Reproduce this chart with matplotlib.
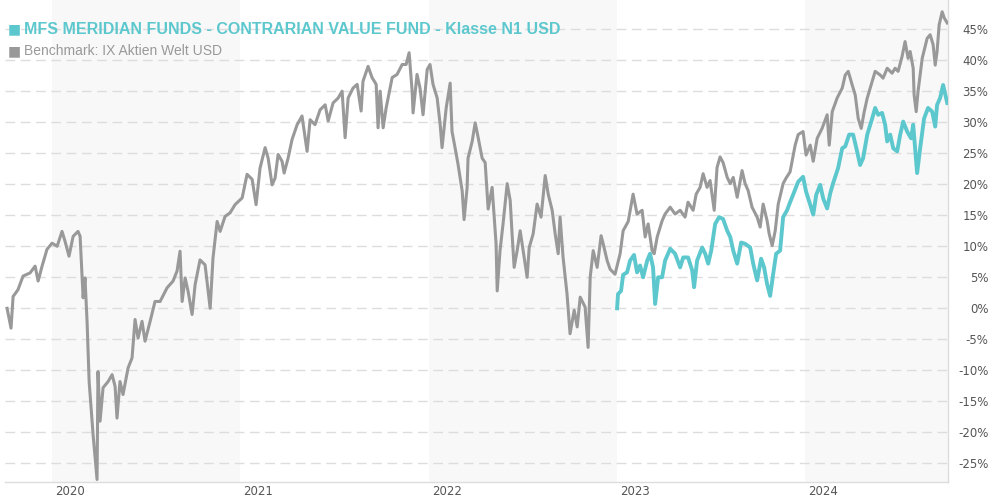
import matplotlib
matplotlib.use("Agg")
import matplotlib.pyplot as plt
import numpy as np

# time as decimal year, values in % performance
bench_t = [2019.761, 2019.782, 2019.793, 2019.819, 2019.846, 2019.883, 2019.910, 2019.926, 2019.947, 2019.973,
           2020.000, 2020.027, 2020.053, 2020.069, 2020.090, 2020.112, 2020.138, 2020.149, 2020.165, 2020.175,
           2020.186, 2020.197, 2020.218, 2020.239, 2020.244, 2020.255, 2020.271, 2020.298, 2020.319, 2020.335,
           2020.345, 2020.361, 2020.377, 2020.404, 2020.425, 2020.441, 2020.457, 2020.478, 2020.494, 2020.521,
           2020.547, 2020.574, 2020.611, 2020.643, 2020.664, 2020.680, 2020.691, 2020.707, 2020.723, 2020.744,
           2020.760, 2020.786, 2020.813, 2020.840, 2020.855, 2020.877, 2020.893, 2020.919, 2020.946, 2020.972,
           2021.010, 2021.036, 2021.063, 2021.084, 2021.105, 2021.132, 2021.148, 2021.169, 2021.185, 2021.201,
           2021.222, 2021.233, 2021.254, 2021.275, 2021.302, 2021.328, 2021.355, 2021.371, 2021.397, 2021.424,
           2021.451, 2021.467, 2021.493, 2021.520, 2021.541, 2021.557, 2021.573, 2021.599, 2021.621, 2021.642,
           2021.652, 2021.679, 2021.700, 2021.722, 2021.732, 2021.743, 2021.759, 2021.775, 2021.807, 2021.833,
           2021.860, 2021.881, 2021.897, 2021.913, 2021.918, 2021.939, 2021.955, 2021.971, 2021.993, 2022.008,
           2022.024, 2022.046, 2022.062, 2022.072, 2022.094, 2022.115, 2022.125, 2022.141, 2022.157, 2022.179,
           2022.189, 2022.205, 2022.210, 2022.232, 2022.248, 2022.264, 2022.285, 2022.301, 2022.317, 2022.338,
           2022.349, 2022.359, 2022.365, 2022.380, 2022.396, 2022.418, 2022.434, 2022.444, 2022.455, 2022.471,
           2022.487, 2022.503, 2022.524, 2022.535, 2022.556, 2022.577, 2022.598, 2022.620, 2022.636, 2022.657,
           2022.673, 2022.689, 2022.699, 2022.715, 2022.736, 2022.752, 2022.774, 2022.790, 2022.806, 2022.832,
           2022.848, 2022.859, 2022.875, 2022.896, 2022.917, 2022.928, 2022.949, 2022.965, 2022.991, 2023.018,
           2023.034, 2023.061, 2023.087, 2023.108, 2023.135, 2023.151, 2023.167, 2023.188, 2023.199, 2023.215,
           2023.241, 2023.257, 2023.284, 2023.310, 2023.337, 2023.363, 2023.379, 2023.406, 2023.422, 2023.443,
           2023.459, 2023.480, 2023.496, 2023.518, 2023.533, 2023.549, 2023.565, 2023.587, 2023.603, 2023.619,
           2023.640, 2023.666, 2023.682, 2023.698, 2023.719, 2023.746, 2023.762, 2023.778, 2023.799, 2023.810,
           2023.826, 2023.842, 2023.858, 2023.884, 2023.900, 2023.921, 2023.948, 2023.964, 2023.990, 2024.006,
           2024.028, 2024.044, 2024.065, 2024.091, 2024.118, 2024.129, 2024.145, 2024.171, 2024.198, 2024.214,
           2024.230, 2024.251, 2024.267, 2024.283, 2024.299, 2024.315, 2024.331, 2024.357, 2024.373, 2024.400,
           2024.415, 2024.437, 2024.463, 2024.479, 2024.495, 2024.516, 2024.532, 2024.548, 2024.559, 2024.575,
           2024.580, 2024.591, 2024.601, 2024.623, 2024.649, 2024.665, 2024.681, 2024.692, 2024.702, 2024.713,
           2024.729, 2024.740, 2024.756]
bench_v = [0.0, -3.2, 1.9, 3.0, 5.2, 5.7, 6.8, 4.4, 6.8, 9.5,
           10.5, 10.0, 12.4, 10.8, 8.4, 11.6, 12.4, 11.6, 1.7, 4.9,
           -2.1, -11.8, -20.4, -27.6, -10.2, -18.2, -12.8, -11.8, -10.7, -12.6,
           -17.7, -11.8, -13.9, -9.6, -8.0, -1.8, -4.8, -2.1, -5.3, -2.1,
           1.1, 1.1, 3.3, 4.4, 6.0, 9.2, 1.1, 4.9, 2.7, -1.0,
           3.8, 7.8, 7.0, 0.0, 8.1, 14.0, 12.4, 14.8, 15.4, 16.7,
           17.8, 21.6, 20.8, 16.7, 22.6, 25.9, 24.2, 19.9, 21.0, 24.8,
           23.7, 21.8, 24.2, 27.2, 29.6, 31.0, 25.3, 30.4, 29.6, 32.0,
           32.8, 30.2, 33.1, 33.9, 35.0, 27.5, 33.9, 35.5, 36.1, 31.8,
           36.6, 39.0, 37.2, 36.1, 29.1, 35.0, 29.1, 32.3, 37.2, 37.7,
           39.3, 39.3, 41.2, 35.0, 31.5, 37.7, 35.5, 31.2, 38.5, 39.3,
           36.1, 33.9, 29.6, 25.9, 32.3, 36.3, 28.5, 25.9, 23.2, 18.9,
           14.3, 19.4, 24.2, 26.9, 29.9, 27.5, 24.2, 23.5, 16.0, 19.5,
           14.7, 10.4, 2.8, 9.3, 13.6, 20.1, 17.4, 12.0, 6.6, 9.3,
           12.5, 9.3, 5.0, 9.8, 12.0, 16.8, 14.7, 21.4, 18.4, 15.8,
           12.0, 8.8, 14.7, 8.2, 2.3, -4.1, -0.3, -3.0, 1.8, 0.2,
           -6.3, 5.0, 9.3, 6.6, 11.7, 10.4, 7.7, 6.3, 5.5, 8.8,
           12.5, 14.0, 18.4, 15.2, 15.8, 11.5, 13.6, 9.3, 8.8, 11.5,
           14.1, 15.2, 16.3, 15.2, 15.8, 14.7, 17.1, 15.8, 18.4, 19.5,
           21.7, 19.5, 20.6, 15.8, 22.7, 24.4, 23.5, 21.1, 20.1, 21.1,
           17.9, 22.2, 20.1, 19.0, 16.3, 14.7, 13.1, 16.8, 14.1, 12.0,
           10.1, 12.5, 16.8, 20.1, 21.0, 22.0, 26.3, 28.0, 28.5, 24.7,
           26.3, 23.7, 27.4, 29.0, 31.2, 26.3, 31.7, 33.9, 35.5, 37.6,
           38.2, 36.0, 34.4, 30.6, 29.0, 31.7, 33.9, 36.6, 38.2, 37.6,
           37.1, 38.7, 37.9, 38.7, 38.2, 40.6, 43.0, 40.3, 41.4, 38.7,
           34.4, 31.7, 35.0, 40.3, 43.5, 44.1, 42.5, 39.2, 41.4, 45.7,
           47.8, 46.8, 46.0]

fund_t = [2023.002, 2023.007, 2023.023, 2023.034, 2023.055, 2023.071, 2023.092, 2023.108, 2023.124, 2023.140,
          2023.162, 2023.177, 2023.193, 2023.204, 2023.220, 2023.241, 2023.257, 2023.284, 2023.310, 2023.337,
          2023.353, 2023.379, 2023.401, 2023.411, 2023.427, 2023.454, 2023.470, 2023.486, 2023.502, 2023.523,
          2023.544, 2023.565, 2023.587, 2023.603, 2023.619, 2023.640, 2023.661, 2023.682, 2023.709, 2023.725,
          2023.746, 2023.767, 2023.783, 2023.799, 2023.815, 2023.831, 2023.847, 2023.868, 2023.884, 2023.905,
          2023.921, 2023.937, 2023.964, 2023.990, 2024.006, 2024.028, 2024.044, 2024.060, 2024.081, 2024.097,
          2024.118, 2024.134, 2024.150, 2024.176, 2024.198, 2024.214, 2024.235, 2024.256, 2024.277, 2024.293,
          2024.309, 2024.331, 2024.357, 2024.373, 2024.389, 2024.410, 2024.426, 2024.437, 2024.453, 2024.469,
          2024.490, 2024.506, 2024.522, 2024.543, 2024.564, 2024.575, 2024.596, 2024.612, 2024.633, 2024.654,
          2024.676, 2024.692, 2024.702, 2024.718, 2024.734, 2024.756]
fund_v = [0.0, 2.3, 2.8, 5.4, 5.8, 7.7, 8.6, 5.8, 6.9, 5.0,
          7.7, 8.8, 6.6, 0.7, 5.0, 5.0, 7.7, 9.6, 8.8, 6.6,
          8.2, 8.2, 6.1, 3.4, 7.7, 9.8, 8.8, 7.2, 9.3, 13.6,
          14.7, 14.4, 12.5, 11.5, 9.3, 7.2, 10.6, 10.4, 9.8, 7.2,
          4.5, 8.0, 6.6, 3.9, 2.0, 5.5, 8.8, 9.3, 14.7, 15.8,
          17.1, 18.3, 20.4, 21.2, 18.8, 16.7, 15.1, 18.3, 19.9, 17.7,
          16.1, 18.5, 20.2, 22.6, 25.8, 26.1, 28.0, 28.0, 25.3, 23.1,
          24.2, 28.0, 30.6, 32.3, 31.2, 31.5, 29.6, 26.9, 28.0, 25.8,
          25.3, 28.0, 30.1, 28.5, 27.4, 29.6, 21.8, 25.8, 30.6, 32.3,
          31.7, 29.3, 32.8, 33.9, 36.0, 33.1]

years = [2020, 2021, 2022, 2023, 2024]
y_ticks = list(range(-25, 50, 5))

fund_name = "MFS MERIDIAN FUNDS - CONTRARIAN VALUE FUND - Klasse N1 USD"
bench_name = "Benchmark: IX Aktien Welt USD"

fund_col = "#5cc8ce"
bench_col = "#999999"

plt.rcParams['font.family'] = ['Liberation Sans', 'DejaVu Sans']

fig = plt.figure(figsize=(9.9, 5.0), dpi=100)
ax = fig.add_axes([5 / 990, 18 / 500, 943 / 990, 482 / 500])

# alternating year bands
for i, yr in enumerate(years):
    if i % 2 == 0:
        ax.axvspan(yr, yr + 1, color="#f8f8f8", zorder=0, lw=0)

for yv in y_ticks:
    ax.axhline(yv, color="#dddddd", lw=1, dashes=(7, 4), zorder=1)

ax.plot(bench_t, bench_v, color=bench_col, lw=2.2, zorder=3, solid_joinstyle="round")
ax.plot(fund_t, fund_v, color=fund_col, lw=2.8, zorder=4, solid_joinstyle="round")

ax.set_xlim(2019.75, 2024.76)
ax.set_ylim(-28, 49.7)

for s in ["top", "left"]:
    ax.spines[s].set_visible(False)
for s in ["bottom", "right"]:
    ax.spines[s].set_color("#dddddd")
    ax.spines[s].set_linewidth(1)

ax.yaxis.tick_right()
ax.set_yticks(y_ticks)
ax.set_yticklabels([f"{v}%" for v in y_ticks], family="DejaVu Sans", fontsize=8.5, color="#555555")
for lab in ax.get_yticklabels():
    lab.set_horizontalalignment("right")
ax.tick_params(axis="y", length=0, pad=29)

ax.set_xticks([yr + 0.096 for yr in years])
ax.set_xticklabels([str(yr) for yr in years], family="DejaVu Sans", fontsize=8.5, color="#555555")
ax.tick_params(axis="x", length=0, pad=2)

# legend
fig.text(8 / 990, 1 - 29 / 500, "\u25a0", color=fund_col, fontsize=10, va="center", family="DejaVu Sans")
fig.text(24 / 990, 1 - 29 / 500, fund_name, color=fund_col, fontsize=11.5, fontweight="bold", va="center")
fig.text(8 / 990, 1 - 51 / 500, "\u25a0", color=bench_col, fontsize=10, va="center", family="DejaVu Sans")
fig.text(24 / 990, 1 - 51 / 500, bench_name, color=bench_col, fontsize=10, va="center")

fig.savefig("out.png", dpi=100)
